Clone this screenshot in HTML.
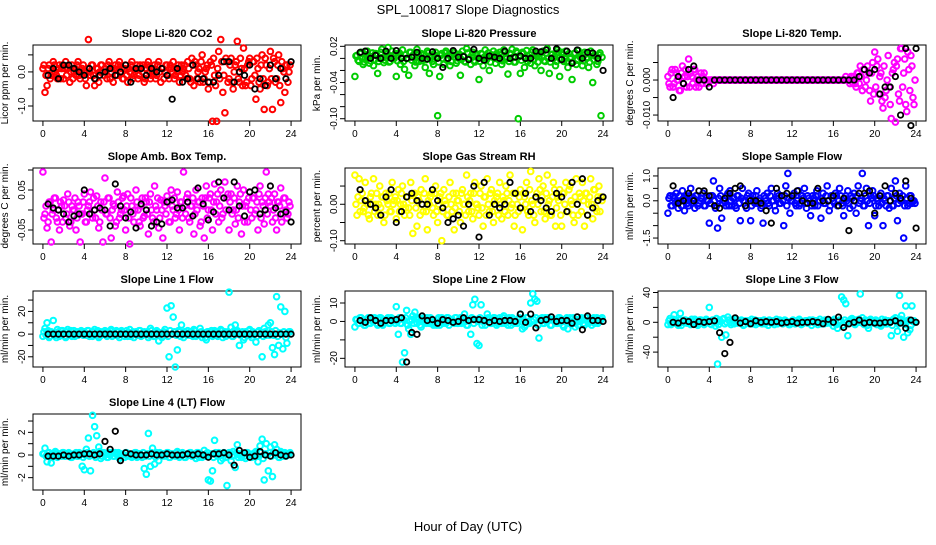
<!DOCTYPE html>
<html><head><meta charset="utf-8"><style>
body{margin:0;background:#fff;}
svg text{font-family:"Liberation Sans",sans-serif;fill:#000;}
</style></head><body>
<svg id="chart" width="936" height="540" viewBox="0 0 936 540" xmlns="http://www.w3.org/2000/svg">
<rect width="936" height="540" fill="#fff"/>
<text x="468" y="14" font-size="13" text-anchor="middle">SPL_100817  Slope Diagnostics</text>
<text x="468" y="531" font-size="13" text-anchor="middle">Hour of Day (UTC)</text>
<g id="plots"></g>
</svg>
<script>
const hours = [0,0.2,0.4,0.6,0.8,1,1.2,1.4,1.6,1.8,2,2.2,2.4,2.6,2.8,3,3.2,3.4,3.6,3.8,4,4.2,4.4,4.6,4.8,5,5.2,5.4,5.6,5.8,6,6.2,6.4,6.6,6.8,7,7.2,7.4,7.6,7.8,8,8.2,8.4,8.6,8.8,9,9.2,9.4,9.6,9.8,10,10.2,10.4,10.6,10.8,11,11.2,11.4,11.6,11.8,12,12.2,12.4,12.6,12.8,13,13.2,13.4,13.6,13.8,14,14.2,14.4,14.6,14.8,15,15.2,15.4,15.6,15.8,16,16.2,16.4,16.6,16.8,17,17.2,17.4,17.6,17.8,18,18.2,18.4,18.6,18.8,19,19.2,19.4,19.6,19.8,20,20.2,20.4,20.6,20.8,21,21.2,21.4,21.6,21.8,22,22.2,22.4,22.6,22.8,23,23.2,23.4,23.6,23.8];
const hours2 = [0.1,0.3,0.5,0.7,0.9,1.1,1.3,1.5,1.7,1.9,2.1,2.3,2.5,2.7,2.9,3.1,3.3,3.5,3.7,3.9,4.1,4.3,4.5,4.7,4.9,5.1,5.3,5.5,5.7,5.9,6.1,6.3,6.5,6.7,6.9,7.1,7.3,7.5,7.7,7.9,8.1,8.3,8.5,8.7,8.9,9.1,9.3,9.5,9.7,9.9,10.1,10.3,10.5,10.7,10.9,11.1,11.3,11.5,11.7,11.9,12.1,12.3,12.5,12.7,12.9,13.1,13.3,13.5,13.7,13.9,14.1,14.3,14.5,14.7,14.9,15.1,15.3,15.5,15.7,15.9,16.1,16.3,16.5,16.7,16.9,17.1,17.3,17.5,17.7,17.9,18.1,18.3,18.5,18.7,18.9,19.1,19.3,19.5,19.7,19.9,20.1,20.3,20.5,20.7,20.9,21.1,21.3,21.5,21.7,21.9,22.1,22.3,22.5,22.7,22.9,23.1,23.3,23.5,23.7,23.9];
const blackHours = [0.5,1,1.5,2,2.5,3,3.5,4,4.5,5,5.5,6,6.5,7,7.5,8,8.5,9,9.5,10,10.5,11,11.5,12,12.5,13,13.5,14,14.5,15,15.5,16,16.5,17,17.5,18,18.5,19,19.5,20,20.5,21,21.5,22,22.5,23,23.5,24];
const xTicks = [0,4,8,12,16,20,24];
const titles = ["Slope Li-820 CO2","Slope Li-820 Pressure","Slope Li-820 Temp.","Slope Amb. Box Temp.","Slope Gas Stream RH","Slope Sample Flow","Slope Line 1 Flow","Slope Line 2 Flow","Slope Line 3 Flow","Slope Line 4 (LT) Flow"];
const yTitles = ["Licor ppm per min.","kPa per min.","degrees C per min.","degrees C per min.","percent per min.","ml/min per min.","ml/min per min.","ml/min per min.","ml/min per min.","ml/min per min."];
const seriesColors = ["#ff0000","#00cc00","#ff00ff","#ff00ff","#ffff00","#0000ff","#00ffff","#00ffff","#00ffff","#00ffff"];
const yLims = [[-1.44,0.79],[-0.1038,0.0222],[-0.0117,0.0100],[-0.085,0.105],[-0.109,0.0995],[-1.74,1.32],[-29,38],[-24.7,16.5],[-60,42],[-3.09,3.62]];
const yTicks = [[-1,-0.5,0,0.5],[-0.1,-0.08,-0.06,-0.04,-0.02,0,0.02],[-0.01,-0.005,0,0.005],[-0.05,0,0.05,0.1],[-0.1,-0.05,0,0.05],[-1.5,-1,-0.5,0,0.5,1],[-20,-10,0,10,20,30],[-20,-10,0,10],[-40,-20,0,20,40],[-2,-1,0,1,2,3]];
const yTickLabels = [["-1.0","","0.0",""],["-0.10","","","-0.04","","","0.02"],["-0.010","","0.000",""],["-0.05","","0.05",""],["-0.10","","0.00",""],["-1.5","","","0.0","","1.0"],["-20","","0","","20",""],["-20","","0","10"],["-40","","0","","40"],["-2","","0","","2",""]];

const s1 = [0.1,-0.6,-0.4,0.2,-0.1,0.3,0.0,-0.2,0.2,0.1, -0.2,0.3,0.1,-0.3,0.2,0.0,-0.1,0.3,-0.2,0.1, 0.0,-0.4,0.95,-0.1,0.2,-0.4,0.1,-0.3,0.2,0.0, 0.1,-0.2,0.3,0.0,-0.3,0.2,-0.1,0.3,0.1,-0.2, 0.2,-0.3,0.0,0.3,-0.1,0.1,-0.2,0.2,0.0,-0.3, 0.1,0.3,-0.2,0.0,0.2,-0.1,0.3,-0.3,0.1,0.0, 0.2,-0.2,0.1,0.3,-0.1,0.0,-0.3,0.2,0.1,-0.1, 0.3,-0.2,0.4,-0.4,0.2,0.0,-0.3,0.5,-0.2,0.1, -0.5,0.3,-1.45,-0.1,-1.45,0.6,0.95,-0.6,-1.2,0.3, -0.2,0.4,-0.5,0.2,0.9,-0.3,0.1,0.7,-0.4,0.2, 0.4,-0.2,0.3,-0.8,0.1,-0.5,0.5,-1.1,0.2,-0.3, 0.6,-1.1,0.3,-0.2,0.5,-0.9,0.1,-0.6,0.2,0.0];
const c1 = [0.2,-0.1,0.1,-0.2,0.0,0.2,-0.1,0.1,-0.2,0.2, 0.1,-0.1,0.2,0.0,-0.2,0.1,0.2,-0.1,0.0,0.2, -0.2,0.1,0.0,0.2,-0.1,-0.2,0.1,0.0,0.2,-0.1, 0.0,0.2,-0.2,0.1,0.1,-0.1,0.2,0.0,-0.2,0.1, -0.1,0.1,0.2,-0.2,0.0,0.2,-0.1,0.1,0.2,-0.2, 0.2,0.0,-0.1,0.1,-0.2,0.2,0.0,0.1,-0.2,0.2, -0.1,0.2,0.0,-0.2,0.1,0.2,-0.1,0.0,0.2,-0.2, 0.1,-0.3,0.2,0.3,-0.2,0.1,0.3,-0.3,0.0,0.2, -0.3,0.2,0.4,-0.4,0.1,-0.2,0.3,-0.1,0.4,-0.3, 0.2,-0.3,0.0,0.3,-0.2,0.4,-0.4,0.1,-0.3,0.3, -0.4,0.3,-0.1,0.4,-0.3,0.2,-0.2,0.4,-0.4,0.1, -0.2,0.4,-0.3,0.2,-0.4,0.3,0.0,0.2,-0.3,0.2];
const b1 = [-0.1,0.1,-0.2,0.2,0.2,0.1,0.0,-0.1,0.1,-0.2,-0.1,0.0,0.1,-0.1,0.0,0.2,-0.3,0.1,0.1,-0.1,0.1,0.0,0.1,-0.1,-0.8,0.1,-0.3,-0.2,0.2,-0.2,-0.2,-0.3,-0.3,-0.1,0.3,0.3,-0.3,0.0,-0.1,0.2,-0.5,-0.2,-0.4,0.2,-0.2,0.1,-0.2,0.3];
const s2 = [-0.03,0.005,-0.005,0.01,-0.01,0.0,0.012,-0.008,0.003,-0.012, 0.008,-0.025,0.0,0.015,-0.007,0.01,0.018,-0.005,0.012,0.0, -0.03,0.005,-0.01,0.014,-0.018,0.0,-0.028,0.01,0.005,-0.012, 0.015,-0.005,0.008,0.0,-0.015,0.012,-0.025,0.005,-0.01,0.01, -0.095,-0.03,0.008,-0.01,0.012,0.0,-0.012,0.006,0.01,-0.008, 0.004,-0.028,0.012,-0.005,0.016,0.0,-0.01,0.01,-0.006,0.005, -0.035,0.008,-0.012,0.014,0.0,-0.02,0.006,0.012,-0.008,0.004, 0.01,-0.01,0.014,0.0,-0.026,0.008,0.015,-0.006,0.012,-0.1, -0.025,0.01,-0.015,0.013,0.0,-0.008,0.014,-0.012,0.008,0.003, -0.02,0.012,-0.005,0.016,-0.025,0.006,0.0,-0.012,0.014,-0.03, 0.01,-0.005,0.012,-0.015,0.0,-0.035,0.008,-0.01,0.013,0.002, -0.012,0.01,0.0,-0.015,0.012,-0.04,0.004,-0.01,0.006,-0.095];
const c2 = [0.004,-0.003,0.008,0.0,-0.006,0.006,0.002,-0.004,0.009,-0.002, 0.006,-0.005,0.01,0.001,-0.003,0.007,-0.006,0.004,0.0,0.008, -0.004,0.009,0.002,-0.005,0.006,0.0,0.01,-0.003,0.005,-0.006, 0.008,0.001,-0.004,0.007,-0.002,0.009,0.0,-0.005,0.006,0.003, -0.006,0.005,0.0,0.009,-0.003,0.006,-0.005,0.01,0.002,-0.004, 0.007,-0.002,0.004,-0.006,0.009,0.0,0.005,-0.004,0.008,0.001, -0.005,0.007,0.002,-0.003,0.009,-0.006,0.004,0.0,0.008,-0.002, 0.006,-0.004,0.01,0.0,-0.005,0.007,0.002,-0.006,0.009,0.003, -0.003,0.008,0.0,-0.005,0.006,0.01,-0.002,0.004,-0.006,0.008, 0.002,-0.004,0.009,0.0,-0.006,0.007,0.003,-0.005,0.01,-0.002, 0.006,0.0,-0.005,0.008,0.002,-0.006,0.009,-0.003,0.005,0.0, -0.004,0.007,0.001,-0.006,0.008,-0.002,0.005,-0.005,0.009,0.002];
const b2 = [0.01,0.012,0.0,0.005,0.0,0.012,0.0,0.013,0.0,0.0,0.002,0.01,0.0,-0.001,0.011,0.0,-0.015,0.0,0.013,0.002,0.003,-0.002,0.015,0.0,-0.003,0.004,0.002,0.0,0.012,0.0,0.002,0.004,0.0,0.0,0.012,0.011,0.014,0.0,0.016,-0.002,0.012,-0.008,0.014,0.0,0.01,0.009,0.0,-0.02];
const s3 = [0.001,-0.002,0.003,-0.001,0.002,0.0,-0.003,0.004,0.001,-0.002, 0.006,0.002,-0.001,0.003,0.0,-0.002,0.002,0.001,0.0,-0.001, 0,0,-0.001,0,0,0,0,0,0,0, 0,0,0,0,0,0,0,0,0,0, 0,0,0,0,0,0,0,0,0,0, 0,0,0,0,0,0,0,0,0,0, 0,0,0,0,0,0,0,0,0,0, 0,0,0,0,0,0,0,0,0,0, 0,0,0,0,0,0,0.001,0,-0.001,0.001, 0.001,-0.002,0.002,0.004,-0.003,0.003,0.0,0.002,-0.006,0.005, 0.008,0.004,-0.004,0.002,-0.008,-0.005,0.0,-0.002,-0.011,0.003, -0.012,0.006,-0.006,0.009,0.002,-0.007,0.008,-0.003,0.004,-0.007];
const c3 = [-0.001,0.002,-0.002,0.003,0.0,-0.003,0.002,-0.001,0.003,0.001, -0.002,0.001,0.003,-0.002,0.001,0.0,-0.001,0.002,-0.001,0.0, 0,0,0,0,0,0,0,0,0,0, 0,0,0,0,0,0,0,0,0,0, 0,0,0,0,0,0,0,0,0,0, 0,0,0,0,0,0,0,0,0,0, 0,0,0,0,0,0,0,0,0,0, 0,0,0,0,0,0,0,0,0,0, 0,0,0,0,0,0,0,0,0.001,-0.001, -0.001,0.002,-0.001,0.001,0.003,-0.002,0.004,-0.003,0.002,-0.004, -0.002,0.006,0.001,-0.006,0.004,-0.003,0.007,-0.007,0.002,0.005, 0.004,-0.004,0.009,-0.002,0.006,-0.009,0.003,0.007,-0.005,0.0];
const b3 = [-0.005,0.001,-0.001,0.003,0.004,0.0,0.0,-0.002, 0,0,0,0,0,0,0,0,0,0,0,0,0,0,0,0,0,0,0,0,0,0,0,0,0,0,0,0, 0.001,0.003,0.002,0.003,-0.004,-0.002,-0.002,0.001,-0.01,0.009,-0.013,0.009];
const s4 = [0.095,-0.01,-0.045,0.02,-0.08,0.0,0.03,-0.03,-0.05,0.01, 0.025,-0.02,0.04,-0.04,0.01,0.0,-0.05,0.02,-0.08,-0.01, 0.04,-0.03,0.01,0.045,-0.02,0.0,0.035,-0.045,0.02,-0.08, 0.08,-0.01,0.03,-0.07,0.015,-0.04,0.045,-0.02,0.0,0.035, -0.05,0.04,-0.085,0.01,-0.03,0.05,0.0,-0.04,0.03,-0.015, 0.02,-0.06,0.04,-0.02,0.06,0.0,-0.045,0.025,-0.07,0.01, 0.035,-0.03,0.05,0.0,-0.02,0.045,-0.05,0.02,0.095,-0.01, 0.04,-0.03,0.01,-0.06,0.05,0.02,-0.04,0.03,-0.07,0.06, 0.0,0.04,-0.05,0.065,0.02,-0.03,0.05,-0.01,0.07,0.03, -0.05,0.04,0.0,-0.035,0.06,0.02,-0.06,0.05,0.01,-0.03, 0.045,-0.02,0.03,0.0,-0.05,0.06,0.02,-0.035,0.095,0.04, 0.01,-0.03,0.04,-0.05,0.02,0.055,-0.01,0.03,-0.02,0.02];
const c4 = [-0.02,0.01,-0.03,0.02,-0.01,0.03,-0.02,0.0,0.02,-0.03, 0.01,-0.01,0.02,-0.03,0.0,0.03,-0.02,0.01,-0.01,0.02, -0.03,0.0,0.02,-0.01,0.03,-0.02,0.01,-0.03,0.0,0.02, -0.01,0.03,-0.02,0.0,0.01,-0.03,0.02,-0.01,0.03,0.0, 0.01,-0.02,0.03,-0.01,0.0,0.02,-0.03,0.01,-0.02,0.03, -0.01,0.02,0.0,-0.03,0.01,0.03,-0.02,0.0,0.02,-0.01, 0.02,-0.03,0.01,0.03,-0.01,0.0,0.02,-0.02,0.01,0.03, -0.02,0.01,0.03,-0.01,0.0,0.02,-0.03,0.01,0.03,-0.02, 0.03,0.0,0.02,-0.01,0.04,0.01,-0.02,0.03,0.0,0.04, 0.02,-0.01,0.03,0.0,-0.02,0.04,0.01,-0.03,0.02,0.03, 0.0,0.03,-0.01,0.02,0.04,-0.02,0.01,0.03,-0.01,0.02, 0.03,0.0,-0.02,0.02,0.01,-0.03,0.03,0.0,-0.01,0.01];
const b4 = [0.015,0.005,0.0,-0.01,-0.03,-0.015,-0.01,0.05,-0.01,0.0,0.005,0.0,-0.04,0.065,0.01,-0.02,-0.005,-0.045,0.015,0.0,-0.04,-0.03,-0.035,0.02,0.025,0.005,0.005,0.02,-0.015,0.055,0.015,-0.025,-0.005,0.07,0.03,0.0,0.07,0.01,-0.015,0.045,0.05,-0.01,0.0,0.06,0.005,-0.01,-0.005,-0.03];
const s5 = [0.08,-0.03,0.07,0.01,-0.02,0.06,0.0,-0.04,0.03,0.07, 0.0,-0.03,0.05,0.02,-0.05,0.03,0.0,-0.02,0.06,0.01, -0.04,0.04,0.0,0.05,-0.03,0.02,-0.01,0.06,-0.08,0.03, -0.06,0.01,0.04,-0.02,0.07,-0.07,0.0,0.03,-0.03,0.05, -0.05,0.02,-0.1,0.04,0.0,-0.03,0.06,-0.02,-0.07,0.03, 0.01,-0.05,0.04,0.0,0.08,-0.02,0.03,-0.04,0.06,0.0, -0.03,0.05,-0.06,0.02,0.07,-0.02,0.04,-0.05,0.0,0.03, 0.06,-0.04,0.01,0.05,-0.03,0.08,0.0,-0.06,0.03,-0.02, 0.04,-0.07,0.02,0.06,-0.03,0.09,0.0,-0.05,0.03,0.07, -0.02,0.05,-0.04,0.08,0.01,-0.03,0.06,-0.06,0.02,0.04, -0.06,0.03,0.06,-0.02,0.05,0.0,-0.05,0.07,-0.03,0.02, 0.06,-0.06,0.03,0.0,0.07,-0.04,0.04,-0.02,0.05,0.02];
const c5 = [0.0,0.02,-0.02,0.03,-0.01,0.01,-0.03,0.02,0.0,-0.02, 0.03,0.0,-0.01,0.02,-0.03,0.01,0.03,-0.02,0.0,0.02, 0.01,-0.02,0.03,0.0,-0.01,0.02,-0.03,0.01,0.03,-0.01, 0.02,-0.03,0.0,0.03,-0.02,0.01,0.02,-0.01,0.03,-0.02, 0.0,0.03,-0.02,0.01,-0.03,0.02,0.0,0.03,-0.01,0.01, -0.02,0.03,0.0,-0.03,0.02,0.01,-0.02,0.03,0.0,-0.01, 0.03,-0.01,0.02,-0.03,0.0,0.03,-0.02,0.01,0.02,-0.03, 0.0,0.02,-0.02,0.03,0.01,-0.01,0.03,-0.03,0.0,0.02, -0.01,0.03,0.0,-0.02,0.04,0.01,-0.03,0.02,0.0,0.04, 0.02,-0.02,0.03,0.0,-0.03,0.02,0.04,-0.01,0.01,-0.03, 0.03,0.0,-0.02,0.04,0.01,-0.03,0.02,0.0,0.03,-0.02, 0.01,0.03,-0.03,0.02,0.0,0.04,-0.01,0.02,-0.02,0.01];
const b5 = [0.04,0.01,0.0,-0.01,-0.03,0.02,0.04,-0.05,-0.02,0.02,0.03,0.01,0.0,0.0,0.04,0.01,-0.01,-0.05,-0.04,-0.03,-0.06,0.0,0.05,-0.09,0.06,-0.03,0.0,-0.01,0.0,0.06,0.03,-0.01,0.03,-0.02,0.02,0.01,-0.01,-0.02,0.03,0.02,-0.02,0.06,0.0,0.07,-0.03,-0.01,0.01,0.02];
const s6 = [-0.5,0.2,-0.2,0.1,0.3,-0.3,0.0,0.4,-0.4,0.2, -0.2,0.5,0.0,-0.3,0.2,-0.1,0.1,0.3,-0.2,0.0, -0.9,0.2,0.8,-0.3,-1.1,0.5,-0.7,0.0,-0.2,0.3, 0.4,-0.2,0.1,-0.3,0.2,-0.8,0.5,0.0,-0.3,0.3, -0.8,0.2,-0.1,0.4,0.0,-0.3,-0.9,0.1,0.3,-0.2, 0.5,0.0,-0.4,0.3,-0.1,0.2,-1.0,0.6,1.1,-0.5, 0.0,0.3,-0.2,0.4,-0.1,0.2,0.5,-0.3,0.1,-0.6, 0.2,-0.2,0.4,0.0,-0.7,0.3,-0.1,0.6,-0.4,0.2, 0.0,0.3,-0.2,0.5,-0.1,-0.6,0.2,0.4,-0.3,0.1, 0.3,-0.5,0.6,0.0,1.1,-0.2,0.5,-1.0,0.2,0.4, -0.6,0.1,-0.2,0.3,-1.0,0.0,0.2,-0.3,0.5,-0.2, 0.8,-0.8,0.3,0.0,-1.5,0.6,-0.2,0.2,-0.1,0.0];
const c6 = [0.1,-0.2,0.2,-0.1,0.0,0.2,-0.2,0.1,0.0,-0.1, 0.2,-0.1,0.1,0.2,-0.2,0.0,0.1,-0.2,0.2,0.0, -0.1,0.2,0.0,-0.2,0.1,0.2,-0.1,0.0,0.2,-0.2, 0.0,0.1,-0.2,0.2,-0.1,0.1,0.0,-0.2,0.2,0.1, -0.2,0.0,0.2,-0.1,0.1,-0.2,0.2,0.0,-0.1,0.2, 0.0,-0.2,0.1,0.2,-0.1,0.0,0.2,-0.2,0.1,0.0, 0.2,-0.1,0.0,-0.2,0.2,0.1,-0.1,0.2,0.0,-0.2, 0.1,0.2,-0.2,0.0,0.1,-0.1,0.2,0.0,-0.2,0.1, -0.1,0.2,0.0,0.2,-0.2,0.1,0.0,-0.1,0.2,-0.2, 0.0,0.2,-0.1,0.1,-0.2,0.2,0.0,-0.1,0.1,0.2, -0.2,0.0,0.2,-0.1,0.1,-0.2,0.2,0.0,-0.2,0.1, 0.2,-0.1,0.0,0.2,-0.2,0.1,-0.1,0.2,0.0,-0.1];
const b6 = [0.6,-0.1,0.0,0.3,0.0,0.4,0.4,0.2,-0.2,-0.3,0.1,0.3,0.5,0.6,-0.2,0.0,0.0,-0.1,-0.4,-0.9,0.5,0.2,0.3,0.2,0.4,0.0,-0.1,-0.1,0.5,0.0,0.0,0.2,-0.2,0.1,-1.2,0.0,0.3,0.3,0.4,-0.5,0.2,0.6,0.0,0.3,0.1,0.8,0.1,-1.1];
const s7 = [-2,5,10,-3,2,12,-1,4,-2,3, 1,-3,4,0,-2,3,1,-1,2,0, 2,-1,3,0,-2,4,1,-3,2,0, 3,-2,1,4,0,-1,2,-3,3,1, 0,-2,4,1,-3,2,0,3,-1,2, 1,-3,5,0,-2,3,-6,1,-2,4, 23,-20,25,15,-29,-14,2,8,-3,1, 3,-1,2,4,-2,0,5,-3,1,-5, 2,0,-2,3,1,-1,4,-3,2,0, 37,6,-2,8,3,-10,1,-5,2,-1, 4,-3,1,-7,2,0,-20,5,-1,8, 10,-12,-18,33,-10,24,-13,20,-8,2];
const c7 = [2,-1,3,-2,1,0,-3,2,-1,3, -2,2,0,3,-1,-2,2,0,3,-1, 1,3,-2,0,2,-1,3,-2,1,2, -1,2,3,-2,1,3,-1,0,2,-2, 3,1,-2,2,0,-1,3,-2,1,0, 2,-1,3,-2,1,2,0,-3,2,1, -2,3,0,2,-1,3,-2,0,2,-1, 1,2,-2,3,0,-1,2,1,-3,2, 0,3,-1,2,-2,1,3,0,-2,2, 1,-2,3,0,2,-1,2,-3,1,3, -1,2,0,-2,3,1,-2,2,0,-1, 2,-1,3,-2,1,0,2,-3,1,2];
const b7 = [0,0,0,0,0,0,0,0,0,0,0,0,0,0,0,0,0,0,0,0,0,0,0,0,0,0,0,0,0,0,0,0,0,0,0,0,0,0,0,0,0,0,0,0,0,0,0,0];
const s8 = [-3,1,-1,2,0,-2,1,-1,2,0, 1,-2,2,0,-1,1,2,-1,0,1, 8,-7,-1,-22,-17,6,-4,-7,3,5, -1,2,-3,1,0,2,-1,1,-2,0, 1,-2,2,0,-1,2,0,1,-1,2, -1,2,0,4,-2,1,-7,9,12,-12, -13,9,0,-2,4,1,-1,2,0,-1, 2,-1,3,0,-2,1,2,-1,0,1, 4,-4,-3,2,0,10,15,12,11,-9, 1,-1,2,0,1,-2,1,0,-1,2, 0,-3,1,-4,2,0,-1,1,-2,0, 1,-2,2,-1,0,1,-1,2,0,1];
const c8 = [1,-1,2,0,-2,1,2,-1,0,2, -1,1,2,-2,0,1,-1,2,1,-1, 0,2,-1,1,2,-2,0,1,-1,2, 1,-2,0,2,-1,1,2,-1,0,-2, 2,0,-1,1,2,-2,1,0,2,-1, 1,-1,2,0,-2,1,2,-1,1,0, 2,-2,1,0,2,-1,1,2,-2,0, 1,2,-1,0,2,-2,1,0,-1,2, 0,1,-2,2,-1,0,1,2,-2,1, 2,-1,0,2,-2,1,0,-1,2,1, -2,1,2,0,-1,2,-3,1,0,2, -1,2,0,1,-2,2,1,-1,0,2];
const b8 = [0.5,-0.5,2,0.5,-1,0.5,0.5,1,2,-22,-6,-7,3,0.5,1,-1,1,0.5,-0.5,0,2,0.5,1,1,0.5,-0.5,0.5,0,0.5,0.5,0,4,-0.5,4,-3.5,0.5,1,2.5,0,0.5,0.5,-1,2.5,-4.5,3,0.5,0.5,0];
const s9 = [-3,5,-2,10,2,-4,12,0,3,-1, 2,-3,1,4,-2,0,3,-1,2,0, 20,-3,2,-5,-56,3,-20,5,-17,7, 0,3,-2,4,1,-1,2,-3,0,2, 1,-2,3,0,-1,2,0,-2,1,3, -1,2,0,-2,3,1,-1,2,0,-3, 2,0,-1,3,1,-2,0,2,-1,1, 3,-1,2,0,-2,1,3,-1,0,2, -5,1,-8,3,34,30,25,-18,2,5, -1,3,0,38,6,-3,1,-8,4,0, 2,-3,1,-5,0,3,-2,1,-18,4, 6,-12,36,9,-20,22,-14,-10,22,2];
const c9 = [2,-3,4,0,-2,3,-4,1,3,-1, 0,4,-2,2,-4,3,0,-3,4,1, -2,3,0,5,-3,1,4,-2,0,3, -3,2,4,-1,0,3,-4,2,1,-2, 4,0,-3,2,1,-2,3,0,-4,2, 1,-3,4,0,2,-2,3,1,-3,0, 3,-2,0,4,-3,1,2,-1,3,-4, 0,2,-3,4,1,-2,0,3,-1,2, 4,-3,1,2,-4,3,0,-2,4,1, -3,2,4,0,-2,3,-4,1,2,-1, 3,0,-3,4,1,-2,2,0,-4,3, 1,-2,4,0,-3,2,3,-4,1,0];
const b9 = [0,-1,2,1,-3,1,0,1,2,-14,-42,-27,6,-1,1,-2,2,0,1,0,1,-1,0,1,-1,0,0,1,0,-2,4,0,7,-7,-2,0,3,-1,0,-1,-1,0,0,2,-1,-8,3,0];
const s10 = [0.1,0.6,-0.6,0.2,-0.7,0.0,0.3,-0.2,0.1,-0.1, 0.2,-0.1,0.1,0.0,-0.2,0.1,0.2,-0.1,0.0,-1.0, -1.3,0.5,1.5,-1.4,3.5,2.5,1.7,0.7,-0.3,0.1, 0.0,-0.2,0.2,0.1,-0.1,0.2,0.0,-0.3,0.1,0.0, 0.2,-0.1,0.1,-0.2,0.0,0.2,-0.1,0.1,-0.2,-1.2, -1.7,1.9,-1.0,0.6,-0.8,0.2,-0.5,0.0,0.1,-0.1, 0.2,-0.2,0.1,0.0,-0.1,0.3,-0.2,0.0,0.1,-0.2, 0.1,0.2,-0.1,0.0,-0.3,0.2,0.1,-0.2,0.4,-0.1, -2.2,-2.3,-1.4,1.3,0.0,0.2,-0.5,-0.3,0.1,-2.7, 0.2,-0.5,0.3,-1.1,0.9,0.0,-0.2,0.1,-0.3,0.2, 0.0,-0.2,0.1,0.3,-0.6,0.8,1.4,-2.2,1.0,-1.4, 0.7,-1.9,0.9,0.5,-0.2,0.3,-0.1,0.2,0.0,0.1];
const c10 = [0.1,-0.1,0.2,0.0,-0.2,0.1,0.2,-0.1,0.0,0.2, -0.1,0.1,0.2,-0.2,0.0,0.1,-0.1,0.2,0.1,-0.2, 0.0,0.2,-0.1,0.1,0.2,-0.2,0.0,0.3,-0.1,0.2, 0.1,-0.2,0.0,0.2,-0.1,0.1,0.2,-0.1,0.0,-0.2, 0.2,0.0,-0.1,0.1,0.2,-0.2,0.1,0.0,0.2,-0.1, 0.1,-0.1,0.2,0.0,-0.2,0.1,0.2,-0.1,0.1,0.0, 0.2,-0.2,0.1,0.0,0.2,-0.1,0.1,0.2,-0.2,0.0, 0.1,0.2,-0.1,0.0,0.2,-0.2,0.1,0.0,-0.1,0.2, 0.0,0.1,-0.2,0.2,-0.1,0.0,0.1,0.2,-0.2,0.1, 0.2,-0.1,0.0,0.2,-0.2,0.1,0.0,-0.1,0.2,0.1, -0.2,0.1,0.2,0.0,-0.1,0.2,-0.3,0.1,0.0,0.2, -0.1,0.2,0.0,0.1,-0.2,0.2,0.1,-0.1,0.0,0.2];
const b10 = [-0.1,-0.1,-0.1,0.0,-0.1,0.0,0.0,0.1,0.1,0.0,0.1,1.2,0.5,2.1,-0.5,0.2,0.1,0.0,0.0,0.0,0.1,0.0,0.0,0.1,0.0,0.0,0.0,0.1,0.0,0.1,0.0,-0.2,0.1,0.1,0.2,0.0,-0.9,0.4,0.2,-0.2,-0.1,0.3,0.0,-0.1,0.2,0.0,-0.1,0.0];

const colorSeries = [s1,s2,s3,s4,s5,s6,s7,s8,s9,s10];
const coreSeries = [c1,c2,c3,c4,c5,c6,c7,c8,c9,c10];
const blackSeries = [b1,b2,b3,b4,b5,b6,b7,b8,b9,b10];
const panelSlugs = ["co2","pressure","li820-temp","amb-box-temp","gas-stream-rh","sample-flow","line1-flow","line2-flow","line3-flow","line4-flow"];

const NS = "http://www.w3.org/2000/svg";
const root = document.getElementById("plots");
const colLeft = [33,345,658], rowTop = [45,168,291,414];
const W = 268, H = 76, XMIN = -0.96, XMAX = 24.96;
function mk(tag, attrs, parent){const e=document.createElementNS(NS,tag);for(const k in attrs)e.setAttribute(k,attrs[k]);parent.appendChild(e);return e;}

for (let p = 0; p < 10; p++) {
  const L = colLeft[p % 3], T = rowTop[Math.floor(p / 3)];
  const [ymin, ymax] = yLims[p];
  const sx = v => L + (v - XMIN) / (XMAX - XMIN) * W;
  const sy = v => T + H - (v - ymin) / (ymax - ymin) * H;
  const g = mk("g", {}, root);
  
  
  const t = mk("text", {x: L + W / 2, y: T - 8, "font-size": 11, "font-weight": "bold", "text-anchor": "middle"}, g);
  t.textContent = titles[p];
  
  
  const yt = mk("text", {x: 0, y: 0, "font-size": 10, "text-anchor": "middle", transform: `translate(${L - 25},${T + H / 2}) rotate(-90)`}, g);
  yt.textContent = yTitles[p];
  
  
  const xa = mk("g", {stroke: "#000", "stroke-width": 1}, g);
  
  
  mk("line", {x1: sx(xTicks[0]), x2: sx(xTicks[xTicks.length - 1]), y1: T + H, y2: T + H}, xa);
  xTicks.forEach(v => {
    mk("line", {x1: sx(v), x2: sx(v), y1: T + H, y2: T + H + 5}, xa);
    const lb = mk("text", {x: sx(v), y: T + H + 16, "font-size": 10, "text-anchor": "middle", stroke: "none"}, g);
    lb.textContent = v;
    
    
  });
  const ya = mk("g", {stroke: "#000", "stroke-width": 1}, g);
  
  
  const tk = yTicks[p];
  mk("line", {x1: L, x2: L, y1: sy(tk[0]), y2: sy(tk[tk.length - 1])}, ya);
  tk.forEach((v, i) => {
    mk("line", {x1: L, x2: L - 5, y1: sy(v), y2: sy(v)}, ya);
    if (yTickLabels[p][i]) {
      const lb = mk("text", {x: 0, y: 0, "font-size": 10, "text-anchor": "middle", stroke: "none", transform: `translate(${L - 8},${sy(v)}) rotate(-90)`}, g);
      lb.textContent = yTickLabels[p][i];
      
      
    }
  });
  const bx = mk("rect", {x: L, y: T, width: W, height: H, fill: "none", stroke: "#000", "stroke-width": 1}, g);
  
  
  const cg = mk("g", {fill: "none", stroke: seriesColors[p], "stroke-width": 2}, g);
  
  
  colorSeries[p].forEach((v, i) => {
    const c = mk("circle", {cx: sx(hours[i]), cy: sy(v), r: 2.8}, cg);
    
    
  });
  coreSeries[p].forEach((v, i) => {
    const c = mk("circle", {cx: sx(hours2[i]), cy: sy(v), r: 2.8}, cg);
    
    
  });
  const bg = mk("g", {fill: "none", stroke: "#000", "stroke-width": 1.8}, g);
  
  
  blackSeries[p].forEach((v, i) => {
    const c = mk("circle", {cx: sx(blackHours[i]), cy: sy(v), r: 2.7}, bg);
    
    
  });
}
</script>
</body></html>
